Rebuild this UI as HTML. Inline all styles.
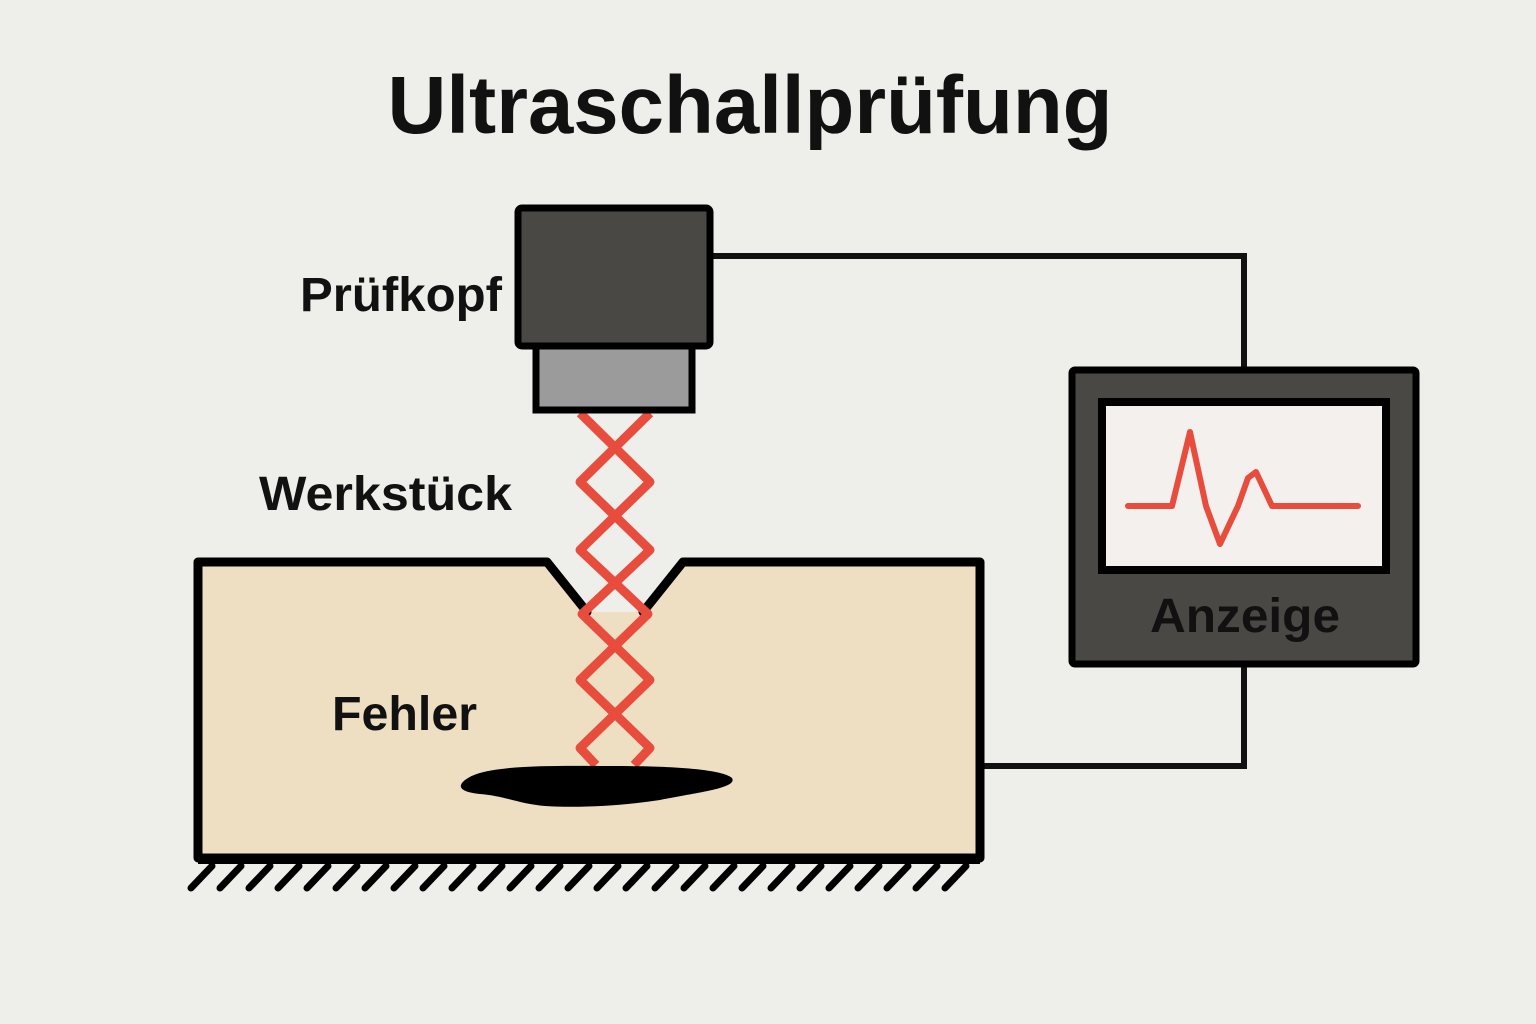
<!DOCTYPE html>
<html><head><meta charset="utf-8"><style>
html,body{margin:0;padding:0;background:#eeeeea;}
svg{display:block}
text{font-family:"Liberation Sans",sans-serif;font-weight:bold;fill:#111}
</style></head><body>
<svg width="1536" height="1024" viewBox="0 0 1536 1024">
<rect width="1536" height="1024" fill="#eeeeea"/>
<text x="750" y="133" font-size="82" text-anchor="middle" textLength="725" lengthAdjust="spacingAndGlyphs">Ultraschallprüfung</text>
<!-- wires -->
<polyline points="710,256 1244,256 1244,372" fill="none" stroke="#111" stroke-width="6"/>
<polyline points="1244,664 1244,766 982,766" fill="none" stroke="#111" stroke-width="6"/>
<!-- workpiece -->
<rect x="198" y="562" width="782" height="296" fill="#efdfc2"/>
<polygon points="550,558 587,612 643,612 680,558" fill="#eeeeea"/>
<polyline points="587,612 547,562 198,562 198,858 980,858 980,562 683,562 643,612" fill="none" stroke="#000" stroke-width="9" stroke-linejoin="round" stroke-linecap="round"/>
<!-- hatch -->
<g stroke="#000" stroke-width="7" stroke-linecap="round">
<line x1="212" y1="866" x2="191" y2="888"/><line x1="241" y1="866" x2="220" y2="888"/><line x1="270" y1="866" x2="249" y2="888"/><line x1="299" y1="866" x2="278" y2="888"/><line x1="328" y1="866" x2="307" y2="888"/><line x1="357" y1="866" x2="336" y2="888"/><line x1="386" y1="866" x2="365" y2="888"/><line x1="415" y1="866" x2="394" y2="888"/><line x1="444" y1="866" x2="423" y2="888"/><line x1="473" y1="866" x2="452" y2="888"/><line x1="502" y1="866" x2="481" y2="888"/><line x1="531" y1="866" x2="510" y2="888"/><line x1="560" y1="866" x2="539" y2="888"/><line x1="589" y1="866" x2="568" y2="888"/><line x1="618" y1="866" x2="597" y2="888"/><line x1="647" y1="866" x2="626" y2="888"/><line x1="676" y1="866" x2="655" y2="888"/><line x1="705" y1="866" x2="684" y2="888"/><line x1="734" y1="866" x2="713" y2="888"/><line x1="763" y1="866" x2="742" y2="888"/><line x1="792" y1="866" x2="771" y2="888"/><line x1="821" y1="866" x2="800" y2="888"/><line x1="850" y1="866" x2="829" y2="888"/><line x1="879" y1="866" x2="858" y2="888"/><line x1="908" y1="866" x2="887" y2="888"/><line x1="937" y1="866" x2="916" y2="888"/><line x1="966" y1="866" x2="945" y2="888"/>
</g>
<line x1="198" y1="860" x2="980" y2="860" stroke="#000" stroke-width="8"/>
<!-- zigzag -->
<g fill="none" stroke="#e84c3d" stroke-width="9" stroke-linejoin="round">
<polyline points="580,413 650,482 580,550 648,614 580,680 650,748 634,765"/>
<polyline points="650,413 580,482 650,550 582,614 650,680 580,748 596,765"/>
</g>
<!-- defect -->
<path d="M468,778 C490,764 560,766 610,766 C660,766 720,768 732,778 C738,788 700,792 660,800 C620,806 580,808 545,806 C520,804 505,796 480,794 C460,792 455,786 468,778 Z" fill="#000"/>
<!-- probe -->
<rect x="518" y="208" width="192" height="138" rx="4" fill="#4a4845" stroke="#000" stroke-width="7"/>
<rect x="536" y="346" width="156" height="64" fill="#9b9b9b" stroke="#000" stroke-width="7"/>
<!-- monitor -->
<rect x="1072" y="370" width="344" height="294" rx="3" fill="#4a4845" stroke="#000" stroke-width="7"/>
<rect x="1102" y="402" width="284" height="168" fill="#f4f0ee" stroke="#000" stroke-width="8"/>
<polyline points="1128,506 1172,506 1190,432 1206,506 1220,544 1238,506 1248,478 1256,472 1272,506 1358,506" fill="none" stroke="#e84c3d" stroke-width="6" stroke-linejoin="round" stroke-linecap="round"/>
<text x="1245" y="632" font-size="48" text-anchor="middle" textLength="190" lengthAdjust="spacingAndGlyphs">Anzeige</text>
<text x="300" y="311" font-size="48" textLength="202" lengthAdjust="spacingAndGlyphs">Prüfkopf</text>
<text x="259" y="510" font-size="48" textLength="253" lengthAdjust="spacingAndGlyphs">Werkstück</text>
<text x="332" y="730" font-size="48" textLength="145" lengthAdjust="spacingAndGlyphs">Fehler</text>
</svg>
</body></html>
